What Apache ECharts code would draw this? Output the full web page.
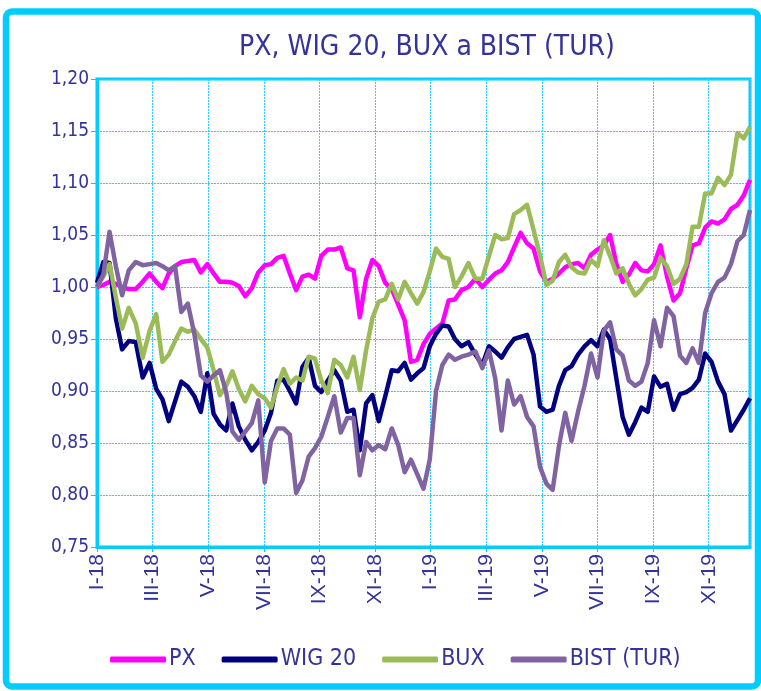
<!DOCTYPE html>
<html>
<head>
<meta charset="utf-8">
<script src="https://cdn.jsdelivr.net/npm/echarts@6/dist/echarts.min.js"></script>
<style>
  html, body { margin: 0; padding: 0; background: #fff; }
  #chart { width: 761px; height: 691px; }
</style>
</head>
<body>
<div id="chart"></div>
<script>
// týdenní hodnoty, start 1.1.2018
const startDate = [2018, 0, 1]
const monthLabels = ['I-18', 'III-18', 'V-18', 'VII-18', 'IX-18', 'XI-18',
  'I-19', 'III-19', 'V-19', 'VII-19', 'IX-19', 'XI-19']
const seriesNames = ['PX', 'WIG 20', 'BUX', 'BIST (TUR)']

const px = [1.000, 1.002, 1.005, 1.003, 1.000, 0.998, 0.998, 1.005, 1.013, 1.005,
  0.999, 1.013, 1.020, 1.024, 1.025, 1.026, 1.014, 1.022, 1.013, 1.005,
  1.005, 1.004, 1.001, 0.991, 0.999, 1.014, 1.021, 1.022, 1.028, 1.030,
  1.013, 0.997, 1.010, 1.012, 1.008, 1.030, 1.036, 1.036, 1.038, 1.018,
  1.016, 0.971, 1.008, 1.026, 1.020, 1.004, 0.998, 0.983, 0.968, 0.928,
  0.930, 0.945, 0.955, 0.960, 0.965, 0.987, 0.988, 0.997, 1.000, 1.008,
  1.000, 1.007, 1.013, 1.016, 1.024, 1.038, 1.052, 1.042, 1.037, 1.015,
  1.005, 1.008, 1.013, 1.019, 1.022, 1.023, 1.018, 1.031, 1.036, 1.040,
  1.050, 1.022, 1.005, 1.012, 1.023, 1.016, 1.015, 1.022, 1.040, 1.010,
  0.987, 0.994, 1.018, 1.040, 1.042, 1.057, 1.063, 1.061, 1.065, 1.075,
  1.079, 1.088, 1.103]

const wig20 = [1.004, 1.024, 1.023, 0.970, 0.940, 0.948, 0.947, 0.913, 0.927, 0.902,
  0.892, 0.871, 0.890, 0.909, 0.904, 0.895, 0.880, 0.917, 0.878, 0.868,
  0.862, 0.888, 0.866, 0.853, 0.843, 0.851, 0.862, 0.879, 0.910, 0.911,
  0.900, 0.888, 0.923, 0.932, 0.905, 0.899, 0.910, 0.920, 0.910, 0.880,
  0.882, 0.843, 0.888, 0.896, 0.871, 0.895, 0.920, 0.919, 0.927, 0.911,
  0.917, 0.922, 0.943, 0.955, 0.963, 0.962, 0.950, 0.943, 0.947, 0.935,
  0.925, 0.943, 0.938, 0.932, 0.942, 0.950, 0.952, 0.954, 0.935, 0.885,
  0.880, 0.882, 0.905, 0.920, 0.924, 0.935, 0.943, 0.949, 0.943, 0.959,
  0.950, 0.912, 0.875, 0.858, 0.870, 0.884, 0.880, 0.914, 0.904, 0.907,
  0.882, 0.897, 0.899, 0.903, 0.911, 0.936, 0.928, 0.909, 0.897, 0.862,
  0.872, 0.882, 0.893]

const bux = [1.000, 1.010, 1.022, 0.990, 0.960, 0.980, 0.965, 0.932, 0.958, 0.974,
  0.928, 0.935, 0.948, 0.960, 0.957, 0.959, 0.950, 0.942, 0.920, 0.896,
  0.905, 0.919, 0.902, 0.890, 0.905, 0.897, 0.893, 0.884, 0.904, 0.921,
  0.907, 0.913, 0.910, 0.933, 0.931, 0.910, 0.898, 0.930, 0.925, 0.913,
  0.933, 0.901, 0.939, 0.970, 0.986, 0.988, 1.003, 0.988, 1.005, 0.994,
  0.984, 0.995, 1.015, 1.037, 1.029, 1.027, 1.000, 1.010, 1.023, 1.008,
  1.008, 1.030, 1.050, 1.046, 1.047, 1.070, 1.074, 1.079, 1.055, 1.030,
  1.002, 1.006, 1.024, 1.031, 1.019, 1.014, 1.013, 1.026, 1.020, 1.045,
  1.030, 1.013, 1.018, 1.003, 0.992, 0.998, 1.007, 1.009, 1.028, 1.020,
  1.003, 1.008, 1.022, 1.058, 1.058, 1.090, 1.090, 1.105, 1.098, 1.108,
  1.148, 1.143, 1.154]

const bist = [1.000, 1.012, 1.053, 1.020, 0.992, 1.016, 1.024, 1.021, 1.022, 1.023,
  1.020, 1.016, 1.020, 0.976, 0.984, 0.955, 0.915, 0.909, 0.915, 0.920,
  0.899, 0.861, 0.853, 0.861, 0.869, 0.891, 0.812, 0.852, 0.864, 0.864,
  0.858, 0.802, 0.814, 0.837, 0.845, 0.856, 0.875, 0.895, 0.860, 0.874,
  0.874, 0.819, 0.851, 0.843, 0.848, 0.844, 0.864, 0.848, 0.822, 0.834,
  0.820, 0.806, 0.834, 0.900, 0.925, 0.935, 0.930, 0.933, 0.935, 0.938,
  0.922, 0.939, 0.912, 0.862, 0.910, 0.887, 0.895, 0.875, 0.866, 0.827,
  0.811, 0.805, 0.847, 0.879, 0.852, 0.880, 0.905, 0.936, 0.913, 0.958,
  0.966, 0.940, 0.934, 0.910, 0.905, 0.909, 0.927, 0.968, 0.943, 0.980,
  0.972, 0.934, 0.927, 0.941, 0.927, 0.975, 0.994, 1.005, 1.009, 1.022,
  1.044, 1.050, 1.074]

const colors = ['#FF00FF', '#000080', '#9BBB59', '#8064A2']
const textColor = '#333399'
const cyan = '#00CCFF'
const narrow = "'Liberation Sans Narrow', 'DejaVu Sans Condensed', 'Arial Narrow', sans-serif"

// pozice týdne na ose v měsících od ledna 2018
function monthPos(i) {
  const d = new Date(Date.UTC(startDate[0], startDate[1], startDate[2] + 7 * i))
  const y = d.getUTCFullYear()
  const m = d.getUTCMonth()
  const dim = new Date(Date.UTC(y, m + 1, 0)).getUTCDate()
  return (y - startDate[0]) * 12 + m + (d.getUTCDate() - 1) / dim
}
function toPairs(values) {
  return values.map((v, i) => [monthPos(i), v])
}

const gridLine = { show: true, lineStyle: { color: '#33CCFF', type: [2, 1], width: 1 } }

const chart = echarts.init(document.getElementById('chart'))
chart.setOption({
  animation: false,
  title: {
    text: 'PX, WIG 20, BUX a BIST (TUR)',
    left: 422,
    top: 29,
    textAlign: 'center',
    textStyle: { color: textColor, fontFamily: narrow, fontSize: 28, fontWeight: 'normal' }
  },
  graphic: [{
    type: 'rect',
    shape: { x: 6, y: 11.5, width: 752, height: 675, r: 6 },
    style: { fill: 'none', stroke: cyan, lineWidth: 6.5 },
    silent: true
  }],
  legend: {
    bottom: 15,
    left: 105,
    icon: 'roundRect',
    itemWidth: 56,
    itemHeight: 6,
    itemGap: 26,
    textStyle: { color: textColor, fontFamily: narrow, fontSize: 23, padding: [0, 0, 0, -2] },
    data: seriesNames
  },
  grid: {
    left: 97,
    right: 11,
    top: 79,
    bottom: 144,
    show: true,
    borderColor: cyan,
    borderWidth: 3
  },
  xAxis: {
    type: 'value',
    min: 0,
    max: 'dataMax',
    interval: 2,
    axisLine: { show: true, lineStyle: { color: cyan, width: 3 } },
    axisTick: { show: true, length: 5, lineStyle: { color: cyan } },
    splitLine: gridLine,
    axisLabel: {
      rotate: 90,
      margin: 7,
      showMaxLabel: false,
      color: textColor,
      fontFamily: "'Liberation Sans', Arial, sans-serif",
      fontSize: 21,
      formatter: (v) => monthLabels[Math.round(v / 2)] || ''
    }
  },
  yAxis: {
    type: 'value',
    min: 0.75,
    max: 1.2,
    interval: 0.05,
    axisLine: { show: true, lineStyle: { color: cyan, width: 3 } },
    axisTick: { show: true, length: 6, lineStyle: { color: cyan } },
    splitLine: gridLine,
    axisLabel: {
      margin: 8,
      color: textColor,
      fontFamily: narrow,
      fontSize: 19,
      formatter: (v) => v.toFixed(2).replace('.', ',')
    }
  },
  series: [px, wig20, bux, bist].map((vals, k) => ({
    name: seriesNames[k],
    type: 'line',
    data: toPairs(vals),
    symbol: 'none',
    color: colors[k],
    lineStyle: { width: 4.5, color: colors[k], join: 'round' }
  }))
})
</script>
</body>
</html>
